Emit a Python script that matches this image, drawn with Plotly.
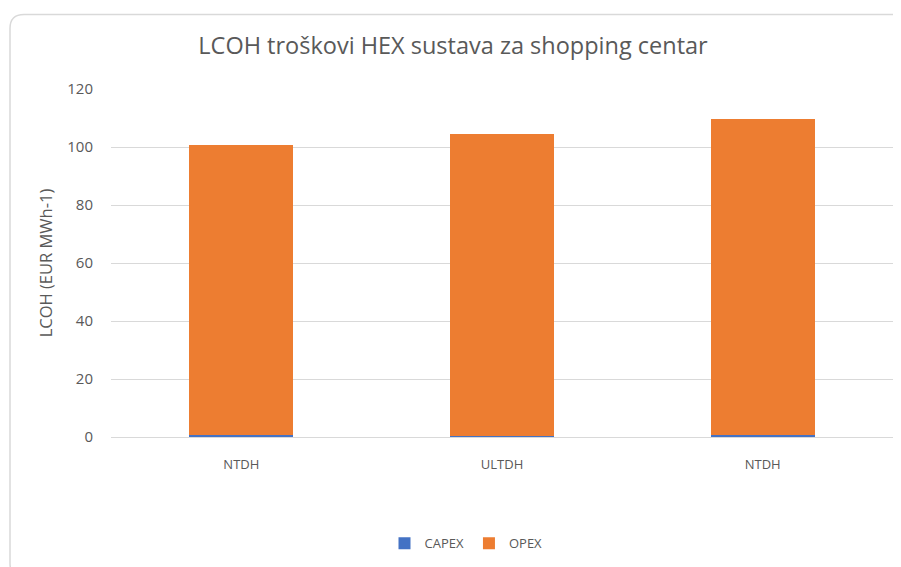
import plotly.graph_objects as go

categories = ["NTDH", "ULTDH", "NTDH"]
capex = [0.6, 0.4, 0.6]
opex = [100.0, 104.2, 109.1]
y_ticks = [0, 20, 40, 60, 80, 100, 120]

# the page adds an 8 px body margin, so the figure is 8 px smaller
OFF = 8
W, H = 901 - OFF, 567 - OFF
L, R, T, B = 111 - OFF, 8, 89 - OFF, 128
pw, ph = W - L - R, H - T - B

def px(x):
    # page pixel -> paper x
    return (x - OFF - L) / pw

def py(y):
    # page pixel -> paper y
    return (H - B - (y - OFF)) / ph

xs = list(range(len(categories)))

fig = go.Figure()
fig.add_trace(go.Bar(x=xs, y=capex, name="CAPEX", marker=dict(color="#4472C4", line=dict(width=0))))
fig.add_trace(go.Bar(x=xs, y=opex, name="OPEX", marker=dict(color="#ED7D31", line=dict(width=0))))

# card border with rounded corners
r = 14
x0, x1, y0, y1 = 10, 915, 14, 580
path = (f"M {px(x0)} {py(y0 + r)} Q {px(x0)} {py(y0)} {px(x0 + r)} {py(y0)} "
        f"L {px(x1)} {py(y0)} L {px(x1)} {py(y1)} L {px(x0 + r)} {py(y1)} "
        f"Q {px(x0)} {py(y1)} {px(x0)} {py(y1 - r)} Z")

fig.update_layout(
    width=W, height=H,
    margin=dict(l=L, r=R, t=T, b=B),
    paper_bgcolor="white", plot_bgcolor="white",
    barmode="stack", bargap=0.6,
    font=dict(family="Open Sans, Noto Sans, sans-serif", color="#595959", size=13),
    title=dict(text="LCOH troškovi HEX sustava za shopping centar",
               x=px(453), xanchor="center", xref="paper",
               y=1 - (46 - OFF) / H, yanchor="middle", yref="container",
               font=dict(size=23.5, color="#595959")),
    xaxis=dict(tickmode="array", tickvals=xs, ticktext=categories, range=[-0.5, 2.5],
               showgrid=False, showline=True, linecolor="#D9D9D9", linewidth=1,
               ticks="", ticklen=0, tickfont=dict(size=13), ticklabelstandoff=15),
    yaxis=dict(range=[0, 120], tickvals=y_ticks, showgrid=True, gridcolor="#D9D9D9",
               gridwidth=1, zeroline=False, showline=False, ticks="",
               tickfont=dict(size=15), ticklabelstandoff=17,
               title=dict(text="LCOH (EUR MWh-1)", font=dict(size=16.5), standoff=10)),
    legend=dict(orientation="h", x=px(466), xanchor="center", y=py(546), yanchor="middle",
                font=dict(size=13), itemwidth=30, traceorder="normal"),
    shapes=[dict(type="path", xref="paper", yref="paper", path=path,
                 line=dict(color="#D9D9D9", width=1.5), layer="below")],
)

fig.write_html("out.html")
